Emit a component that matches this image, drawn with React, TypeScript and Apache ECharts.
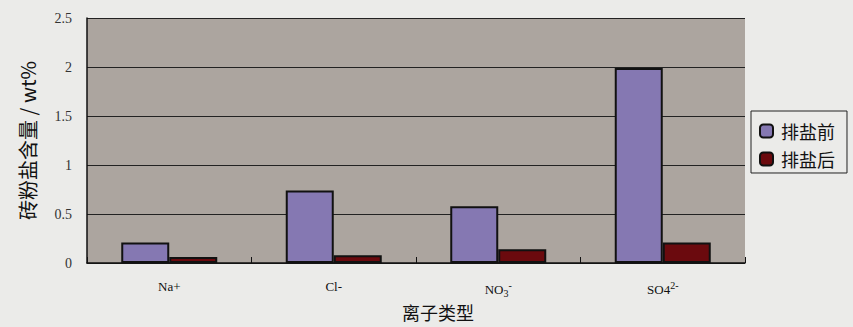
import React, { useEffect, useRef } from "react";
import * as echarts from "echarts";

const categories = ["Na+", "Cl-", "NO3", "SO4"];
const beforeValues = [0.21, 0.74, 0.58, 1.99];
const afterValues = [0.06, 0.08, 0.14, 0.21];
const seriesNames = ["排盐前", "排盐后"];
const yAxisName = "砖粉盐含量 / wt%";
const xAxisName = "离子类型";

const labelRich: Record<string, string> = {
  "Na+": "{n|Na+}",
  "Cl-": "{n|Cl-}",
  NO3: "{n|NO}{sub|3}{sup|-}",
  SO4: "{n|SO4}{sup|2-}",
};

export default function App() {
  const ref = useRef<HTMLDivElement>(null);
  useEffect(() => {
    if (!ref.current) return;
    const chart = echarts.init(ref.current, null, { renderer: "svg" });
    const serif = "'Liberation Serif', 'DejaVu Serif', serif";
    chart.setOption({
      animation: false,
      backgroundColor: "#ebebe9",
      grid: {
        left: 87,
        right: 108,
        top: 18,
        bottom: 64,
        containLabel: false,
        outerBoundsMode: "none",
        show: true,
        backgroundColor: "#aca59f",
        borderWidth: 0,
      },
      legend: {
        orient: "vertical",
        left: 751,
        top: 111,
        itemWidth: 13,
        itemHeight: 13,
        itemGap: 10,
        padding: [11, 12, 5, 8],
        borderColor: "#222",
        borderWidth: 1,
        textStyle: {
          fontFamily: "'Noto Sans CJK SC'",
          fontSize: 18,
          color: "#111",
          padding: [0, 0, 0, 3],
        },
        data: seriesNames,
      },
      xAxis: {
        type: "category",
        data: categories,
        name: xAxisName,
        nameLocation: "middle",
        nameGap: 38,
        nameTextStyle: {
          fontFamily: "'Noto Sans CJK SC'",
          fontSize: 18,
          color: "#111",
          padding: [0, 0, 0, 44],
        },
        axisLine: { show: true, lineStyle: { color: "#111", width: 1.5 } },
        axisTick: { show: true, inside: true, length: 6, lineStyle: { color: "#111" } },
        axisLabel: {
          margin: 17,
          formatter: (v: string) => labelRich[v] ?? v,
          rich: {
            n: { fontFamily: serif, fontSize: 13, color: "#111" },
            sub: { fontFamily: serif, fontSize: 10, color: "#111", verticalAlign: "bottom", padding: [7, 0, 0, 0] },
            sup: { fontFamily: serif, fontSize: 10, color: "#111", verticalAlign: "top", padding: [0, 0, 8, 0] },
          },
        },
      },
      yAxis: {
        type: "value",
        min: 0,
        max: 2.5,
        interval: 0.5,
        name: yAxisName,
        nameLocation: "middle",
        nameGap: 50,
        nameTextStyle: { fontFamily: "'Noto Sans CJK SC'", fontSize: 20, color: "#111" },
        axisLine: { show: true, lineStyle: { color: "#111", width: 1.5 } },
        axisTick: { show: false },
        axisLabel: { fontFamily: serif, fontSize: 14, color: "#333", margin: 15 },
        splitLine: { show: true, lineStyle: { color: "#222", width: 1 } },
      },
      series: [
        {
          name: seriesNames[0],
          type: "bar",
          data: beforeValues,
          barWidth: 48,
          barGap: "0%",
          itemStyle: { color: "#8578b2", borderColor: "#111", borderWidth: 2 },
        },
        {
          name: seriesNames[1],
          type: "bar",
          data: afterValues,
          barWidth: 48,
          barGap: "0%",
          itemStyle: { color: "#6b0a0e", borderColor: "#111", borderWidth: 2 },
        },
      ],
    });
    return () => chart.dispose();
  }, []);
  return (
    <div
      ref={ref}
      style={{ position: "fixed", left: 0, top: 0, width: 853, height: 327 }}
    />
  );
}
